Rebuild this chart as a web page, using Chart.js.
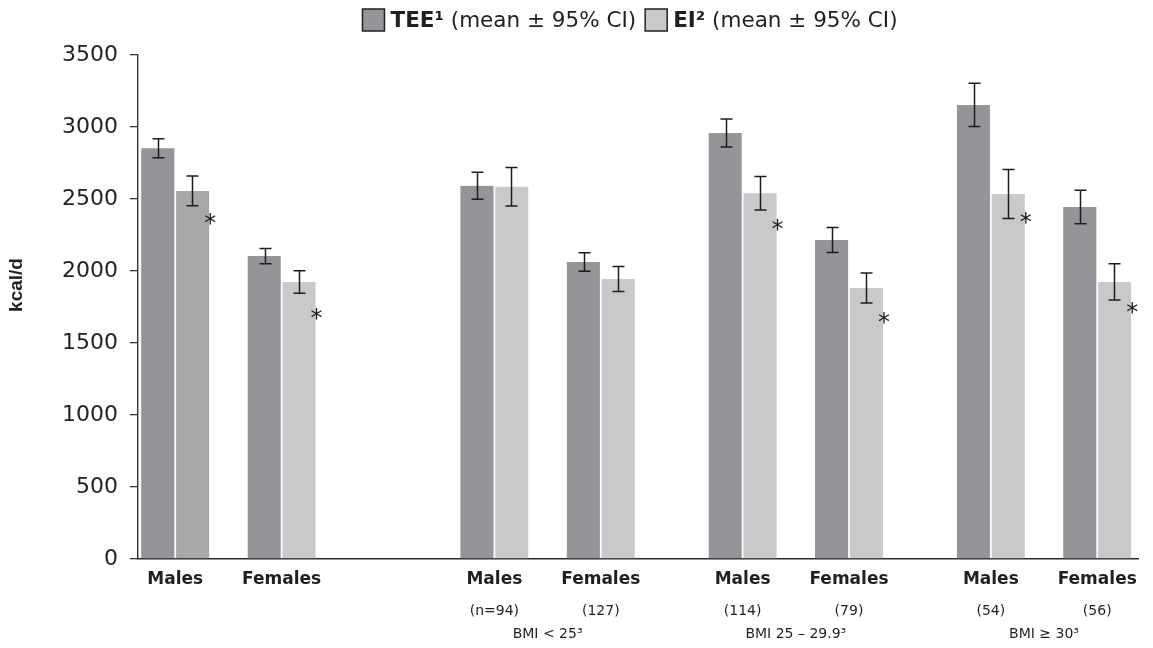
<!DOCTYPE html>
<html>
<head>
<meta charset="utf-8">
<script src="https://cdn.jsdelivr.net/npm/chart.js@4/dist/chart.umd.min.js"></script>
<style>
  html, body { margin: 0; padding: 0; background: #ffffff; }
  #wrap { width: 1153px; height: 648px; position: relative; }
</style>
</head>
<body>
<div id="wrap"><canvas id="c" width="1153" height="648"></canvas></div>
<script>
// ---------------- DATA ----------------
const categories = ['Males', 'Females', 'Males', 'Females', 'Males', 'Females', 'Males', 'Females'];
const sampleSizes = ['', '', '(n=94)', '(127)', '(114)', '(79)', '(54)', '(56)'];
const bmiGroups = ['BMI < 25³', 'BMI 25 – 29.9³', 'BMI ≥ 30³'];
const teeMean = [2852, 2104, 2592, 2063, 2958, 2215, 3153, 2444];
const teeCI   = [66, 53, 93, 64, 97, 87, 150, 116];
const eiMean  = [2556, 1924, 2585, 1944, 2540, 1882, 2535, 1924];
const eiCI    = [103, 78, 134, 87, 117, 104, 170, 126];
const eiSignificant = [true, true, false, false, true, true, true, true];
const yTicks = [0, 500, 1000, 1500, 2000, 2500, 3000, 3500];
const seriesNames = ['TEE', 'EI'];
const seriesSup = ['¹', '²'];
const seriesNote = ' (mean ± 95% CI)';
const yTitle = 'kcal/d';

// ---------------- LAYOUT / STYLE ----------------
const slotPos = [0, 3, 9, 12, 16, 19, 23, 26];       // x slots of each bar pair
const bmiPos = [10.5, 17.5, 24.5];                    // x slots of group labels
const starLevel = [2372, 1712, null, null, 2331, 1683, 2384, 1759]; // asterisk height (axis units)
const X_MIN = -1.05, X_MAX = 27.15;
const TEE_COLOR = '#939598';
const EI_COLOR = '#c8c9cb';
const EI_FIRST_COLOR = '#a8a8a7';
const INK = '#231f20';
const SANS = '"DejaVu Sans", sans-serif';

const teeData = slotPos.map((p, i) => ({ x: p, y: teeMean[i] }));
const eiData = slotPos.map((p, i) => ({ x: p, y: eiMean[i] }));
const eiColors = eiData.map((d, i) => i === 0 ? EI_FIRST_COLOR : EI_COLOR);

function fixedTicks(values) {
  return function (scale) { scale.ticks = values.map(v => ({ value: v })); };
}

const errorBars = {
  id: 'errorBars',
  afterDatasetsDraw(chart) {
    const ctx = chart.ctx, ys = chart.scales.y;
    [[teeMean, teeCI], [eiMean, eiCI]].forEach(([m, c], di) => {
      chart.getDatasetMeta(di).data.forEach((bar, i) => {
        const top = ys.getPixelForValue(m[i] + c[i]);
        const bot = ys.getPixelForValue(m[i] - c[i]);
        const x = Math.round(bar.x) + 0.5;
        ctx.save();
        ctx.strokeStyle = '#1c1c1c';
        ctx.lineWidth = 1.5;
        ctx.beginPath();
        ctx.moveTo(x, top); ctx.lineTo(x, bot);
        ctx.moveTo(x - 6, top); ctx.lineTo(x + 6, top);
        ctx.moveTo(x - 6, bot); ctx.lineTo(x + 6, bot);
        ctx.stroke();
        ctx.restore();
      });
    });
    // significance asterisks
    const meta = chart.getDatasetMeta(1);
    ctx.save();
    ctx.fillStyle = '#1c1c1c';
    ctx.font = '24px ' + SANS;
    ctx.textAlign = 'center';
    ctx.textBaseline = 'alphabetic';
    meta.data.forEach((bar, i) => {
      if (!eiSignificant[i] || starLevel[i] == null) return;
      const cy = ys.getPixelForValue(starLevel[i]);
      ctx.fillText('*', bar.x + bar.width / 2 + 1, cy + 13.8);
    });
    ctx.restore();
  }
};

const customLegend = {
  id: 'customLegend',
  afterDraw(chart) {
    const ctx = chart.ctx;
    const size = 21.5, box = 22, gapBox = 6, gapItem = 9;
    const bold = 'bold ' + size + 'px ' + SANS;
    const norm = size + 'px ' + SANS;
    const colors = [TEE_COLOR, EI_COLOR];
    const items = seriesNames.map((n, i) => {
      ctx.font = bold;
      const wn = ctx.measureText(n + seriesSup[i]).width;
      ctx.font = norm;
      const wt = ctx.measureText(seriesNote).width;
      return { n: n + seriesSup[i], wn, wt, w: box + gapBox + wn + wt, color: colors[i] };
    });
    const total = items.reduce((s, it) => s + it.w, 0) + gapItem * (items.length - 1);
    let x = 630 - total / 2;
    const cy = 20;
    items.forEach(it => {
      ctx.save();
      ctx.fillStyle = it.color;
      ctx.fillRect(x, cy - box / 2, box, box);
      ctx.strokeStyle = '#231f20';
      ctx.lineWidth = 1.5;
      ctx.strokeRect(x, cy - box / 2, box, box);
      ctx.fillStyle = INK;
      ctx.textBaseline = 'middle';
      ctx.textAlign = 'left';
      ctx.font = bold;
      ctx.fillText(it.n, x + box + gapBox, cy + 1);
      ctx.font = norm;
      ctx.fillText(seriesNote, x + box + gapBox + it.wn, cy + 1);
      ctx.restore();
      x += it.w + gapItem;
    });
    // y axis title
    ctx.save();
    ctx.translate(17, 285);
    ctx.rotate(-Math.PI / 2);
    ctx.font = 'bold 19px "Liberation Sans", Arial, sans-serif';
    ctx.fillStyle = INK;
    ctx.textAlign = 'center';
    ctx.textBaseline = 'middle';
    ctx.fillText(yTitle, 0, 0);
    ctx.restore();
  }
};

new Chart(document.getElementById('c'), {
  type: 'bar',
  data: {
    datasets: [
      {
        label: seriesNames[0], data: teeData, backgroundColor: TEE_COLOR,
        borderColor: '#ffffff', borderWidth: { top: 0, right: 1.2, bottom: 0, left: 0 },
        barThickness: 34
      },
      {
        label: seriesNames[1], data: eiData, backgroundColor: eiColors,
        borderColor: '#ffffff', borderWidth: { top: 0, right: 0, bottom: 0, left: 1.2 },
        barThickness: 34
      }
    ]
  },
  options: {
    responsive: false,
    animation: false,
    devicePixelRatio: 1,
    layout: { padding: { top: 55, right: 15, left: 0, bottom: 0 } },
    plugins: { legend: { display: false }, tooltip: { enabled: false } },
    scales: {
      x: {
        type: 'linear', position: 'bottom', min: X_MIN, max: X_MAX, offset: false, bounds: 'data',
        grid: { display: false, drawTicks: false },
        border: { display: true, color: '#2b2b2b', width: 1.6 },
        afterBuildTicks: fixedTicks(slotPos),
        afterFit(s) { s.height = 36; },
        ticks: {
          autoSkip: false, maxRotation: 0, padding: 10.5, color: INK,
          font: { family: SANS, size: 17, weight: 'bold' },
          callback: (v, i) => categories[i]
        }
      },
      xn: {
        type: 'linear', position: 'bottom', weight: 1, min: X_MIN, max: X_MAX, offset: false, bounds: 'data',
        grid: { display: false, drawTicks: false }, border: { display: false },
        afterBuildTicks: fixedTicks(slotPos),
        afterFit(s) { s.height = 24; },
        ticks: {
          autoSkip: false, maxRotation: 0, padding: 7.6, color: INK,
          font: { family: SANS, size: 14 },
          callback: (v, i) => sampleSizes[i]
        }
      },
      xb: {
        type: 'linear', position: 'bottom', weight: 2, min: X_MIN, max: X_MAX, offset: false, bounds: 'data',
        grid: { display: false, drawTicks: false }, border: { display: false },
        afterBuildTicks: fixedTicks(bmiPos),
        afterFit(s) { s.height = 29; },
        ticks: {
          autoSkip: false, maxRotation: 0, padding: 6.6, color: INK,
          font: { family: SANS, size: 14 },
          callback: (v, i) => bmiGroups[i]
        }
      },
      y: {
        min: 0, max: 3500,
        afterBuildTicks: fixedTicks(yTicks),
        afterFit(s) { s.width = 138; },
        grid: { display: true, drawOnChartArea: false, drawTicks: true, tickLength: 8, color: '#333333', lineWidth: 1.3 },
        border: { display: true, color: '#333333', width: 1.4 },
        ticks: {
          padding: 12, color: INK,
          font: { family: SANS, size: 22 },
          callback: v => String(v)
        }
      }
    }
  },
  plugins: [errorBars, customLegend]
});
</script>
</body>
</html>
